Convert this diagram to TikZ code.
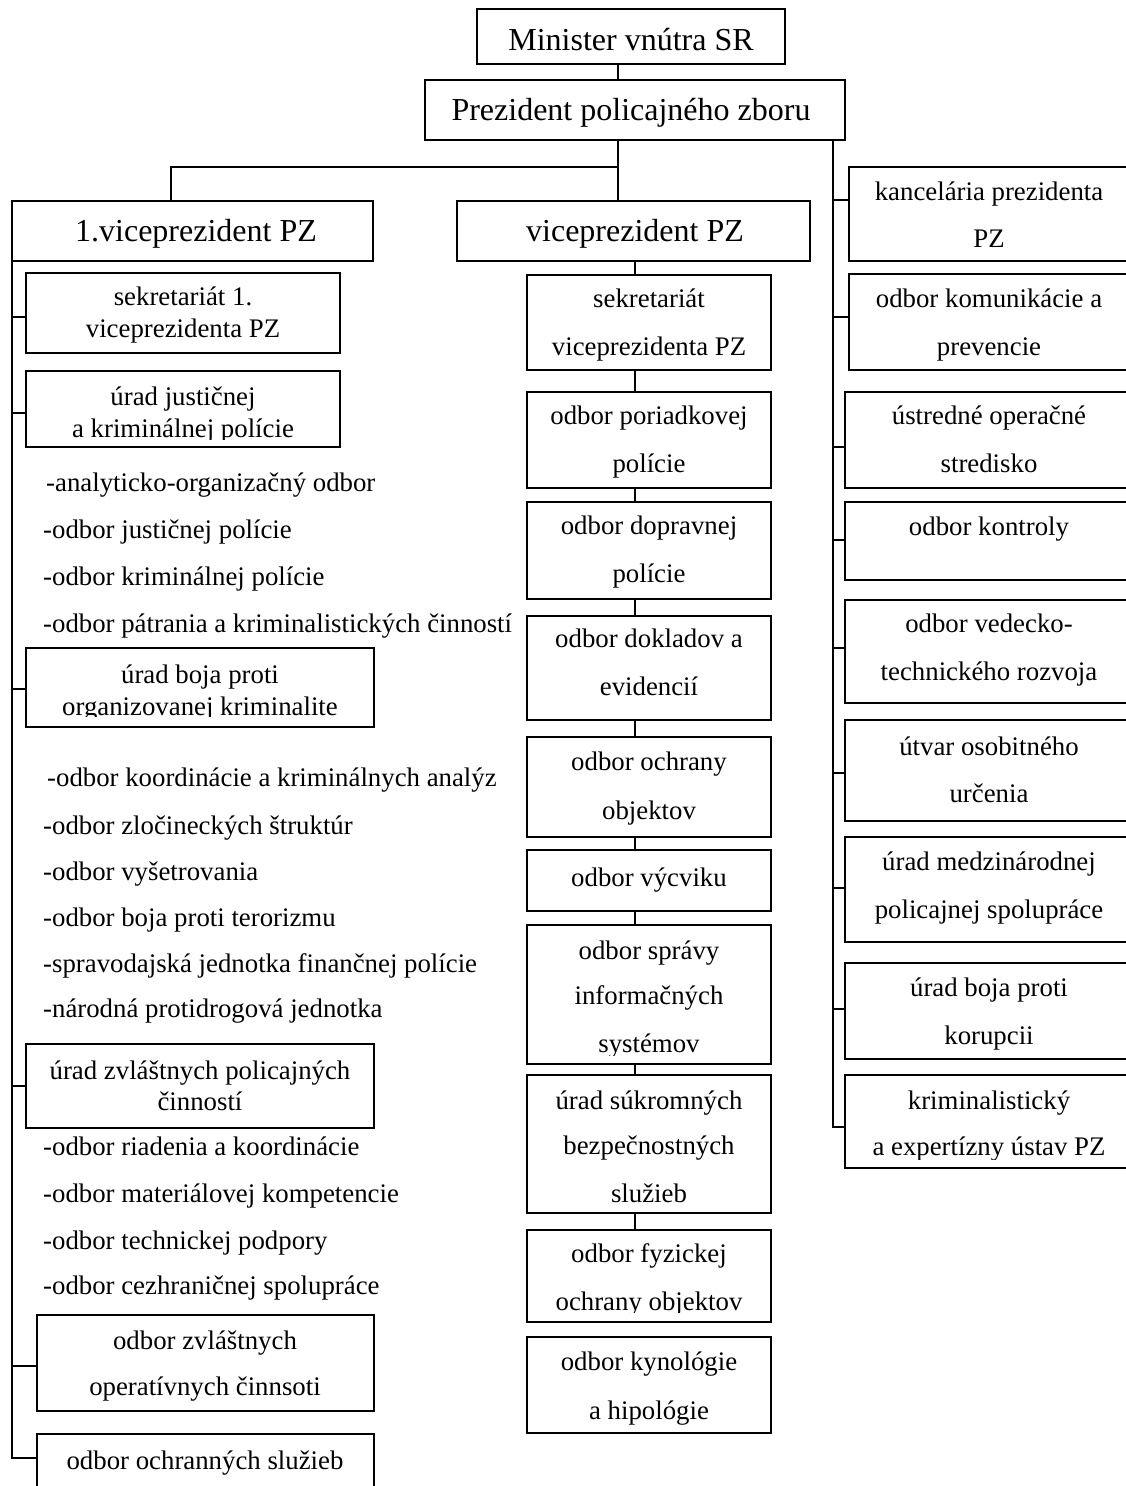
\documentclass[tikz,border=0pt]{standalone}
\usepackage{fontspec}
\setmainfont{Liberation Serif}
\newcommand\obox[5]{\node[box,minimum width={#4-#2},minimum height={#5-#3}] (#1) at (#2,#3) {};}
\newcommand\otx[4]{\node[txt] (#1) at (#2,#3) {#4};}
\newcommand\olt[4]{\node[txtl] (#1) at (#2,#3) {#4};}
\begin{document}
\begin{tikzpicture}[x=1pt,y=-1pt,
  box/.style={draw,line width=1.8pt,inner sep=0pt,outer sep=0pt,anchor=north west},
  lnk/.style={line width=1.8pt},
  txt/.style={inner sep=0pt,anchor=base,font=\fontsize{26.8}{30}\selectfont},
  txtl/.style={txt,anchor=base west},
  big/.style={inner sep=0pt,anchor=base,font=\fontsize{32}{36}\selectfont}]
\useasboundingbox (0,0) rectangle (1126,1486);
\clip (0,0) rectangle (1126,1486);
\fill[white] (0,0) rectangle (1126,1486);

% ---------- boxes ----------
\obox{minister}{477}{9}{785}{64}
\obox{prezident}{425}{80}{845}{140}
\obox{vpa}{12}{201}{373}{261}
\obox{vpb}{457}{201}{810}{261}
% right column
\obox{kanc}{849}{167}{1131}{261}
\obox{komu}{849}{274}{1131}{370}
\obox{ustr}{845}{392}{1131}{488}
\obox{kont}{845}{502}{1131}{580}
\obox{vede}{845}{600}{1131}{703}
\obox{utva}{845}{720}{1131}{821}
\obox{medz}{845}{837}{1131}{942}
\obox{koru}{845}{963}{1131}{1059}
\obox{krim}{845}{1075}{1131}{1168}
% middle column
\obox{sekb}{527}{275}{771}{370}
\obox{pori}{527}{392}{771}{488}
\obox{dopr}{527}{502}{771}{599}
\obox{dokl}{527}{616}{771}{720}
\obox{ochr}{527}{737}{771}{837}
\obox{vycv}{527}{850}{771}{911}
\obox{sprv}{527}{925}{771}{1064}
\obox{sukr}{527}{1075}{771}{1213}
\obox{fyzi}{527}{1230}{771}{1322}
\obox{kyno}{527}{1337}{771}{1433}
% left column
\obox{seka}{26}{273}{340}{353}
\obox{just}{26}{371}{340}{447}
\obox{boja}{26}{648}{374}{727}
\obox{zvla}{26}{1044}{374}{1128}
\obox{oper}{37}{1315}{374}{1411}
\obox{ochs}{37}{1434}{374}{1510}

% ---------- connectors ----------
\coordinate (cx1) at (618,0);
\coordinate (bar) at (618,167);
\coordinate (cx2) at (171,0);
\draw[lnk] (minister.south -| cx1) -- (prezident.north -| cx1);
\draw[lnk] (prezident.south -| cx1) -- (vpb.north -| cx1);
\draw[lnk] (bar) -| (vpa.north -| cx2);
% right trunk
\coordinate (cx3) at (833,0);
\coordinate (rend) at (833,1127);
\draw[lnk] (prezident.south -| cx3) -- (rend) -- (rend -| krim.west);
\coordinate (r1) at (833,200);
\coordinate (r2) at (833,317);
\coordinate (r3) at (833,447);
\coordinate (r4) at (833,540);
\coordinate (r5) at (833,648);
\coordinate (r6) at (833,773);
\coordinate (r7) at (833,888);
\coordinate (r8) at (833,1009);
\draw[lnk] (r1) -- (r1 -| kanc.west);
\draw[lnk] (r2) -- (r2 -| komu.west);
\draw[lnk] (r3) -- (r3 -| ustr.west);
\draw[lnk] (r4) -- (r4 -| kont.west);
\draw[lnk] (r5) -- (r5 -| vede.west);
\draw[lnk] (r6) -- (r6 -| utva.west);
\draw[lnk] (r7) -- (r7 -| medz.west);
\draw[lnk] (r8) -- (r8 -| koru.west);
% middle chain
\coordinate (cx4) at (635,0);
\draw[lnk] (vpb.south -| cx4) -- (sekb.north -| cx4);
\draw[lnk] (sekb.south -| cx4) -- (pori.north -| cx4);
\draw[lnk] (pori.south -| cx4) -- (dopr.north -| cx4);
\draw[lnk] (dopr.south -| cx4) -- (dokl.north -| cx4);
\draw[lnk] (dokl.south -| cx4) -- (ochr.north -| cx4);
\draw[lnk] (ochr.south -| cx4) -- (vycv.north -| cx4);
\draw[lnk] (vycv.south -| cx4) -- (sprv.north -| cx4);
\draw[lnk] (sprv.south -| cx4) -- (sukr.north -| cx4);
\draw[lnk] (sukr.south -| cx4) -- (fyzi.north -| cx4);
% left trunk
\coordinate (lend) at (12,1458);
\draw[lnk] (vpa.south west) -- (lend) -- (lend -| ochs.west);
\coordinate (l1) at (12,317);
\coordinate (l2) at (12,413);
\coordinate (l3) at (12,689);
\coordinate (l4) at (12,1086);
\coordinate (l5) at (12,1366);
\draw[lnk] (l1) -- (l1 -| seka.west);
\draw[lnk] (l2) -- (l2 -| just.west);
\draw[lnk] (l3) -- (l3 -| boja.west);
\draw[lnk] (l4) -- (l4 -| zvla.west);
\draw[lnk] (l5) -- (l5 -| oper.west);

% ---------- texts ----------
\node[big] (tmin) at (631,50) {Minister vnútra SR};
\node[big] (tpre) at (631,120) {Prezident policajného zboru};
\node[big] (tvpa) at (196,241) {1.viceprezident PZ};
\node[big] (tvpb) at (635,241) {viceprezident PZ};

% right column
\otx{tk1}{989}{200}{kancelária prezidenta}
\otx{tk2}{989}{247}{PZ}
\otx{tko1}{989}{307}{odbor komunikácie a}
\otx{tko2}{989}{355}{prevencie}
\otx{tu1}{989}{424}{ústredné operačné}
\otx{tu2}{989}{472}{stredisko}
\otx{tkn}{989}{535}{odbor kontroly}
\otx{tv1}{989}{632}{odbor vedecko-}
\otx{tv2}{989}{680}{technického rozvoja}
\otx{tut1}{989}{755}{útvar osobitného}
\otx{tut2}{989}{802}{určenia}
\otx{tm1}{989}{870}{úrad medzinárodnej}
\otx{tm2}{989}{918}{policajnej spolupráce}
\otx{tb1}{989}{996}{úrad boja proti}
\otx{tb2}{989}{1044}{korupcii}
\otx{tkr1}{989}{1109}{kriminalistický}
\begin{scope}
\clip (845,1075) rectangle (1131,1159);
\otx{tkr2}{989}{1155}{a expertízny ústav PZ}
\end{scope}

% middle column
\otx{ts1}{649}{307}{sekretariát}
\otx{ts2}{649}{355}{viceprezidenta PZ}
\otx{tp1}{649}{424}{odbor poriadkovej}
\otx{tp2}{649}{472}{polície}
\otx{td1}{649}{534}{odbor dopravnej}
\otx{td2}{649}{582}{polície}
\otx{tdk1}{649}{647}{odbor dokladov a}
\otx{tdk2}{649}{695}{evidencií}
\otx{to1}{649}{770}{odbor ochrany}
\otx{to2}{649}{819}{objektov}
\otx{tvy}{649}{886}{odbor výcviku}
\otx{tsp1}{649}{959}{odbor správy}
\otx{tsp2}{649}{1004}{informačných}
\begin{scope}
\clip (527,925) rectangle (771,1055);
\otx{tsp3}{649}{1052}{systémov}
\end{scope}
\otx{tsu1}{649}{1109}{úrad súkromných}
\otx{tsu2}{649}{1154}{bezpečnostných}
\otx{tsu3}{649}{1202}{služieb}
\otx{tf1}{649}{1262}{odbor fyzickej}
\begin{scope}
\clip (527,1230) rectangle (771,1312);
\otx{tf2}{649}{1310}{ochrany objektov}
\end{scope}
\otx{tky1}{649}{1370}{odbor kynológie}
\otx{tky2}{649}{1419}{a hipológie}

% left column
\otx{tsa1}{183}{305}{sekretariát 1.}
\otx{tsa2}{183}{337}{viceprezidenta PZ}
\otx{tj1}{183}{405}{úrad justičnej}
\begin{scope}
\clip (26,371) rectangle (340,439);
\otx{tj2}{183}{437}{a kriminálnej polície}
\end{scope}
\olt{la1}{46}{491}{-analyticko-organizačný odbor}
\olt{la2}{43}{538}{-odbor justičnej polície}
\olt{la3}{43}{585}{-odbor kriminálnej polície}
\olt{la4}{43}{632}{-odbor pátrania a kriminalistických činností}
\otx{tbo1}{200}{683}{úrad boja proti}
\begin{scope}
\clip (26,648) rectangle (374,716);
\otx{tbo2}{200}{715}{organizovanej kriminalite}
\end{scope}
\olt{lb1}{47}{786}{-odbor koordinácie a kriminálnych analýz}
\olt{lb2}{43}{834}{-odbor zločineckých štruktúr}
\olt{lb3}{43}{880}{-odbor vyšetrovania}
\olt{lb4}{43}{926}{-odbor boja proti terorizmu}
\olt{lb5}{43}{972}{-spravodajská jednotka finančnej polície}
\olt{lb6}{43}{1017}{-národná protidrogová jednotka}
\otx{tz1}{200}{1079}{úrad zvláštnych policajných}
\otx{tz2}{200}{1110}{činností}
\olt{lc1}{43}{1155}{-odbor riadenia a koordinácie}
\olt{lc2}{43}{1202}{-odbor materiálovej kompetencie}
\olt{lc3}{43}{1249}{-odbor technickej podpory}
\olt{lc4}{43}{1294}{-odbor cezhraničnej spolupráce}
\otx{top1}{205}{1349}{odbor zvláštnych}
\otx{top2}{205}{1395}{operatívnych činnsoti}
\otx{toc}{205}{1469}{odbor ochranných služieb}
\end{tikzpicture}
\end{document}
